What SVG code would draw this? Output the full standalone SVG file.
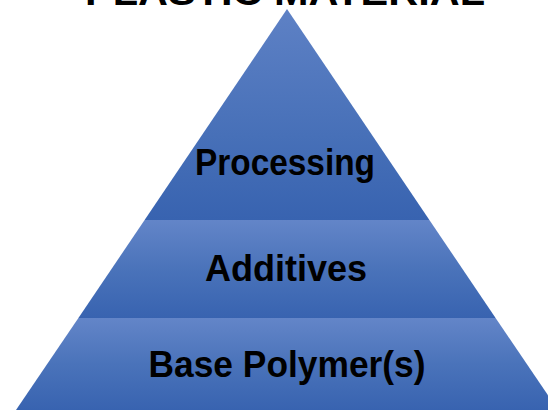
<svg xmlns="http://www.w3.org/2000/svg" width="548" height="410" viewBox="0 0 548 410">
  <defs>
    <linearGradient id="g" x1="0" y1="0" x2="0" y2="1">
      <stop offset="0" stop-color="#6385c8"/>
      <stop offset="0.5" stop-color="#4a73ba"/>
      <stop offset="1" stop-color="#3863b0"/>
    </linearGradient>
    <linearGradient id="gt" x1="0" y1="0" x2="0" y2="1">
      <stop offset="0" stop-color="#5e81c5"/>
      <stop offset="0.6" stop-color="#4770b8"/>
      <stop offset="1" stop-color="#3863b0"/>
    </linearGradient>
  </defs>
  <style>
    .lbl { font-family: "Liberation Sans", Arial, sans-serif; font-weight: bold; font-size: 36px; fill: #000; text-anchor: middle; }
    .title { font-family: "Liberation Sans", Arial, sans-serif; font-weight: bold; font-size: 37px; fill: #000; text-anchor: middle; }
  </style>
  <rect width="548" height="410" fill="#ffffff"/>
  <text class="title" x="285" y="4.5" textLength="400" lengthAdjust="spacingAndGlyphs">PLASTIC MATERIAL</text>
  <g id="base">
    <polygon points="78.4,318 495.6,318 558,410 16,410" fill="url(#g)"/>
    <text class="lbl" x="287" y="377" textLength="277" lengthAdjust="spacingAndGlyphs">Base Polymer(s)</text>
  </g>
  <g id="additives">
    <polygon points="144.6,220 429.4,220 495.6,318 78.4,318" fill="url(#g)"/>
    <text class="lbl" x="286" y="281" textLength="162" lengthAdjust="spacingAndGlyphs">Additives</text>
  </g>
  <g id="processing">
    <polygon points="287,9 429.4,220 144.6,220" fill="url(#gt)"/>
    <text class="lbl" x="285" y="175" textLength="180" lengthAdjust="spacingAndGlyphs">Processing</text>
  </g>
  <g id="connectors"/>
</svg>
